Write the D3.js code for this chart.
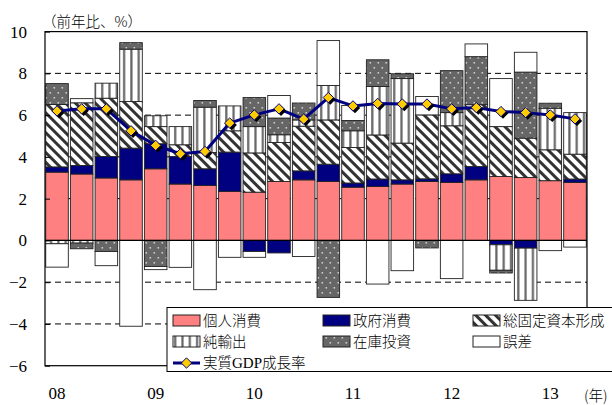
<!DOCTYPE html>
<html>
<head>
<meta charset="utf-8">
<script src="https://cdn.jsdelivr.net/npm/d3@7"></script>
<style>
  html, body { margin: 0; padding: 0; background: #fff; }
  svg { display: block; }
  .num { font-family: "Liberation Serif", "DejaVu Serif", serif; font-size: 17px; fill: #000; }
  .jp { font-family: "Noto Sans CJK JP", "Noto Sans", sans-serif; font-size: 14.5px; fill: #000; font-weight: 300; }
</style>
</head>
<body>
<svg id="chart" width="612" height="405"></svg>
<script>
// ---- Data ----
const categories = ["2008Q1","2008Q2","2008Q3","2008Q4","2009Q1","2009Q2","2009Q3","2009Q4",
  "2010Q1","2010Q2","2010Q3","2010Q4","2011Q1","2011Q2","2011Q3","2011Q4",
  "2012Q1","2012Q2","2012Q3","2012Q4","2013Q1","2013Q2"];
const yearTickCategories = ["2008Q1","2009Q1","2010Q1","2011Q1","2012Q1","2013Q1"];
const yearTickLabels = ["08","09","10","11","12","13"];
const yTicks = [10, 8, 6, 4, 2, 0, -2, -4, -6];

const personal = [3.27,3.18,2.99,2.90,3.43,2.70,2.63,2.35,2.31,2.82,2.90,2.82,2.55,2.58,2.70,2.82,2.78,2.90,3.06,3.01,2.86,2.78];
const government = [0.25,0.41,1.03,1.52,1.20,1.32,0.80,1.88,-0.53,-0.60,0.43,0.83,0.20,0.36,0.20,0.13,0.41,0.64,-0.21,-0.37,0.00,0.16];
const fixedCapital = [2.99,3.00,2.79,2.23,0.82,0.56,0.78,1.02,1.88,1.87,2.14,2.12,1.70,2.11,1.76,3.06,2.30,2.96,2.39,1.89,1.48,1.19];
const netExports = [-0.16,-0.13,0.72,2.51,0.52,0.87,2.17,1.19,1.26,0.37,0.30,1.65,0.80,2.32,3.09,0.00,0.63,0.00,-1.22,-2.50,1.99,1.99];
const inventory = [1.00,-0.27,-0.53,0.31,-1.25,0.00,0.32,0.00,1.39,0.80,0.81,-2.73,0.49,1.28,0.23,-0.36,2.01,2.30,-0.13,3.16,0.24,0.00];
const discrepancy = [-1.12,0.20,-0.68,-4.11,-0.15,-1.29,-2.36,-0.81,-0.28,1.08,-0.77,2.15,0.72,-2.09,-1.45,0.88,-1.83,0.61,2.30,0.95,-0.49,-0.32];
const gdpGrowth = [6.2,6.3,6.3,5.25,4.55,4.15,4.26,5.62,6.01,6.30,5.81,6.84,6.44,6.56,6.53,6.53,6.30,6.36,6.17,6.12,6.01,5.82];

const seriesNames = ["個人消費","政府消費","総固定資本形成","純輸出","在庫投資","誤差"];
const lineName = "実質GDP成長率";

// ---- Build table ----
const keys = ["personal","government","fixedCapital","netExports","inventory","discrepancy"];
const seriesArrays = [personal, government, fixedCapital, netExports, inventory, discrepancy];
const table = categories.map((c, i) => {
  const row = { cat: c };
  keys.forEach((k, j) => row[k] = seriesArrays[j][i]);
  return row;
});

const svg = d3.select("#chart");
const pLeft = 45, pRight = 587, pTop = 31.6, pBottom = 365.7;

const x = d3.scaleBand().domain(categories).range([pLeft, pRight]).paddingInner(0.085).paddingOuter(0.03);
const y = d3.scaleLinear().domain([-6, 10]).range([pBottom, pTop]);

// ---- Patterns ----
const defs = svg.append("defs");
const diag = defs.append("pattern").attr("id", "diag").attr("patternUnits", "userSpaceOnUse")
  .attr("width", 7).attr("height", 7).attr("patternTransform", "rotate(-45)");
diag.append("rect").attr("width", 7).attr("height", 7).attr("fill", "#fff");
diag.append("rect").attr("x", 0).attr("width", 3).attr("height", 7).attr("fill", "#333");

const vert = defs.append("pattern").attr("id", "vert").attr("patternUnits", "userSpaceOnUse")
  .attr("width", 7.3).attr("height", 10).attr("x", pLeft + 3);
vert.append("rect").attr("width", 7.3).attr("height", 10).attr("fill", "#fff");
vert.append("rect").attr("x", 2).attr("width", 2.2).attr("height", 10).attr("fill", "#666");

const dots = defs.append("pattern").attr("id", "dots").attr("patternUnits", "userSpaceOnUse")
  .attr("width", 8).attr("height", 10);
dots.append("rect").attr("width", 8).attr("height", 10).attr("fill", "#666");
dots.append("rect").attr("x", 1.5).attr("y", 2).attr("width", 1.6).attr("height", 1.6).attr("fill", "#ccc");
dots.append("rect").attr("x", 5.5).attr("y", 7).attr("width", 1.6).attr("height", 1.6).attr("fill", "#ccc");

const fills = {
  personal: "#FF8080",
  government: "#000080",
  fixedCapital: "url(#diag)",
  netExports: "url(#vert)",
  inventory: "url(#dots)",
  discrepancy: "#ffffff"
};

// ---- Grid lines ----
svg.append("g").selectAll("line").data(yTicks.filter(v => v !== 0 && v !== 10 && v !== -6))
  .join("line")
  .attr("x1", pLeft).attr("x2", pRight)
  .attr("y1", d => y(d)).attr("y2", d => y(d))
  .attr("stroke", "#000").attr("stroke-width", 1).attr("stroke-dasharray", "6,4");

// ---- Stacked bars ----
const stack = d3.stack().keys(keys).offset(d3.stackOffsetDiverging);
const stacked = stack(table);

svg.append("g").selectAll("g").data(stacked).join("g")
  .attr("fill", d => fills[d.key])
  .selectAll("rect").data(d => d.filter(s => Math.abs(s[1] - s[0]) > 1e-9)).join("rect")
  .attr("x", d => x(d.data.cat))
  .attr("width", x.bandwidth())
  .attr("y", d => y(Math.max(d[0], d[1])))
  .attr("height", d => Math.abs(y(d[0]) - y(d[1])))
  .attr("stroke", "#222").attr("stroke-width", 0.9);

// ---- Zero line & frame ----
svg.append("line").attr("x1", pLeft).attr("x2", pRight).attr("y1", y(0)).attr("y2", y(0))
  .attr("stroke", "#000").attr("stroke-width", 1.2);
svg.append("rect").attr("x", pLeft).attr("y", pTop).attr("width", pRight - pLeft).attr("height", pBottom - pTop)
  .attr("fill", "none").attr("stroke", "#000").attr("stroke-width", 1.2);

// ---- Axes ----
const yAxis = d3.axisLeft(y).tickValues(yTicks).tickSizeInner(-5).tickSizeOuter(0).tickPadding(18)
  .tickFormat(d3.format("d"));
const yg = svg.append("g").attr("transform", `translate(${pLeft},0)`).call(yAxis);
yg.select(".domain").remove();
yg.selectAll("line").attr("stroke", "#000");
yg.attr("font-family", null).attr("font-size", null);
yg.selectAll("text").attr("class", "num");

const xAxis = d3.axisBottom(x).tickValues(yearTickCategories).tickSize(0).tickPadding(21)
  .tickFormat(d => yearTickLabels[yearTickCategories.indexOf(d)]);
const xg = svg.append("g").attr("transform", `translate(0,${pBottom})`).call(xAxis);
xg.select(".domain").remove();
xg.attr("font-family", null).attr("font-size", null);
xg.selectAll("text").attr("class", "num");

// ---- GDP line ----
const cx = d => x(d) + x.bandwidth() / 2;
const lineGen = d3.line().x((d, i) => cx(categories[i])).y(d => y(d));
svg.append("path").datum(gdpGrowth).attr("d", lineGen)
  .attr("fill", "none").attr("stroke", "#000080").attr("stroke-width", 3).attr("stroke-linejoin", "round");

const diamond = "M0,-5.2L5.2,0L0,5.2L-5.2,0Z";
const mk = svg.append("g");
mk.selectAll("path.shadow").data(gdpGrowth).join("path").attr("class", "shadow")
  .attr("d", diamond)
  .attr("transform", (d, i) => `translate(${cx(categories[i]) + 2},${y(d) + 2})`)
  .attr("fill", "#000");
mk.selectAll("path.mark").data(gdpGrowth).join("path").attr("class", "mark")
  .attr("d", diamond)
  .attr("transform", (d, i) => `translate(${cx(categories[i])},${y(d)})`)
  .attr("fill", "#FFCC00").attr("stroke", "#000080").attr("stroke-width", 1);

// ---- Legend ----
const lg = svg.append("g");
lg.append("rect").attr("x", 167).attr("y", 307.5).attr("width", 460).attr("height", 64)
  .attr("fill", "#fff").attr("stroke", "#000").attr("stroke-width", 1);
const legendPos = [
  { k: "personal", x: 173, y: 320.5 },
  { k: "government", x: 323, y: 320.5 },
  { k: "fixedCapital", x: 473, y: 320.5 },
  { k: "netExports", x: 173, y: 341.5 },
  { k: "inventory", x: 323, y: 341.5 },
  { k: "discrepancy", x: 473, y: 341.5 }
];
legendPos.forEach((p, i) => {
  lg.append("rect").attr("x", p.x).attr("y", p.y - 5.5).attr("width", 27).attr("height", 11)
    .attr("fill", fills[p.k]).attr("stroke", "#222").attr("stroke-width", 1);
  lg.append("text").attr("class", "jp").attr("x", p.x + 30).attr("y", p.y).attr("dy", "0.36em")
    .text(seriesNames[keys.indexOf(p.k)]);
});
lg.append("line").attr("x1", 173).attr("x2", 200).attr("y1", 363).attr("y2", 363)
  .attr("stroke", "#000080").attr("stroke-width", 3);
lg.append("path").attr("d", diamond).attr("transform", "translate(186.5,363)")
  .attr("fill", "#FFCC00").attr("stroke", "#000080").attr("stroke-width", 1);
const lt = lg.append("text").attr("class", "jp").attr("x", 203).attr("y", 363).attr("dy", "0.36em");
lt.append("tspan").text("実質");
lt.append("tspan").attr("font-family", "Liberation Serif, serif").attr("font-size", "15px").text("GDP");
lt.append("tspan").text("成長率");

// ---- Titles ----
svg.append("text").attr("class", "jp").attr("x", 42).attr("y", 22).attr("dy", "0.36em").text("（前年比、%）");
svg.append("text").attr("class", "jp").attr("x", 584).attr("y", 396).attr("dy", "0.36em").text("(年)");
</script>
</body>
</html>
